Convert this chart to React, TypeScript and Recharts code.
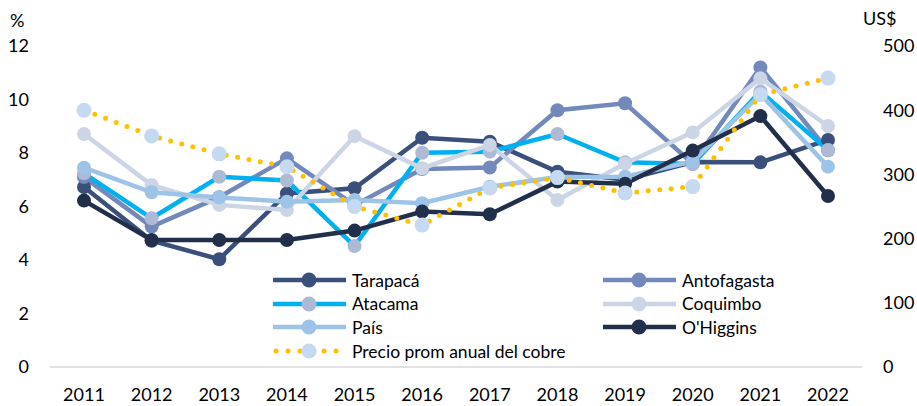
import React from 'react';
import { LineChart, Line, XAxis, YAxis } from 'recharts';

const years = ['2011', '2012', '2013', '2014', '2015', '2016', '2017', '2018', '2019', '2020', '2021', '2022'];
const tarapaca = [6.73, 4.72, 4.03, 6.49, 6.68, 8.57, 8.42, 7.3, 7.0, 7.66, 7.65, 8.49];
const antofagasta = [7.1, 5.25, 6.35, 7.8, 6.05, 7.4, 7.46, 9.6, 9.86, 7.6, 11.2, 8.1];
const atacama = [7.24, 5.56, 7.11, 6.97, 4.52, 8.01, 8.05, 8.71, 7.65, 7.59, 10.3, 8.11];
const coquimbo = [8.71, 6.8, 6.06, 5.87, 8.63, 7.43, 8.3, 6.24, 7.61, 8.77, 10.79, 9.01];
const pais = [7.45, 6.53, 6.34, 6.18, 6.24, 6.12, 6.74, 7.1, 7.11, 7.68, 10.2, 7.49];
const ohiggins = [6.22, 4.75, 4.75, 4.75, 5.1, 5.81, 5.71, 6.93, 6.85, 8.09, 9.38, 6.39];
const cobre = [400, 360, 332, 312, 250, 221, 279, 295, 271, 281, 424, 450];

const leftTicks = [0, 2, 4, 6, 8, 10, 12];
const rightTicks = [0, 100, 200, 300, 400, 500];

const data = years.map((y, i) => ({
  year: y,
  tarapaca: tarapaca[i],
  antofagasta: antofagasta[i],
  atacama: atacama[i],
  coquimbo: coquimbo[i],
  pais: pais[i],
  ohiggins: ohiggins[i],
  cobre: cobre[i],
}));

const FONT = 'Lato, sans-serif';

type SeriesDef = { key: string; name: string; line: string; dot: string; dotted?: boolean };

const series: SeriesDef[] = [
  { key: 'tarapaca', name: 'Tarapacá', line: '#3A4F7A', dot: '#3A4F7A' },
  { key: 'antofagasta', name: 'Antofagasta', line: '#7389BC', dot: '#7389BC' },
  { key: 'atacama', name: 'Atacama', line: '#00B0F0', dot: '#ADB9D5' },
  { key: 'coquimbo', name: 'Coquimbo', line: '#CCD5E6', dot: '#CCD5E6' },
  { key: 'pais', name: 'País', line: '#9DC3E6', dot: '#9DC3E6' },
  { key: 'ohiggins', name: "O'Higgins", line: '#222F4A', dot: '#222F4A' },
  { key: 'cobre', name: 'Precio prom anual del cobre', line: '#FFC000', dot: '#C5D9F1', dotted: true },
];

function LegendSample({ s }: { s: SeriesDef }) {
  return (
    <svg width={73} height={18} style={{ display: 'block' }}>
      {s.dotted ? (
        <line x1={3} y1={9} x2={70} y2={9} stroke={s.line} strokeWidth={5} strokeDasharray="0 12" strokeLinecap="round" />
      ) : (
        <line x1={0} y1={9} x2={73} y2={9} stroke={s.line} strokeWidth={4.5} />
      )}
      <circle cx={36} cy={9} r={7.5} fill={s.dot} />
    </svg>
  );
}

const legendPos: { [k: string]: [number, number] } = {
  tarapaca: [273, 280],
  antofagasta: [603, 280],
  atacama: [273, 303.5],
  coquimbo: [603, 303.5],
  pais: [273, 327],
  ohiggins: [603, 327],
  cobre: [273, 351],
};

export default function App() {
  return (
    <div style={{ position: 'absolute', left: 0, top: 0, width: 917, height: 406, background: '#fff', fontFamily: FONT }}>
      <LineChart width={917} height={406} data={data} margin={{ top: 46, right: 0, left: 0, bottom: 0 }}>
        <XAxis
          dataKey="year"
          height={39}
          padding={{ left: 34, right: 34 }}
          tickLine={false}
          tickSize={0}
          tickMargin={21}
          axisLine={{ stroke: '#D9D9D9', strokeWidth: 1.5 }}
          tick={{ fill: '#000', fontSize: 18, fontFamily: FONT }}
        />
        <YAxis
          yAxisId="left"
          width={50}
          domain={[0, 12]}
          ticks={leftTicks}
          interval={0}
          axisLine={false}
          tickLine={false}
          tickSize={0}
          tickMargin={21}
          tick={{ fill: '#000', fontSize: 18, fontFamily: FONT }}
        />
        <YAxis
          yAxisId="right"
          orientation="right"
          width={55}
          domain={[0, 500]}
          ticks={rightTicks}
          interval={0}
          axisLine={false}
          tickLine={false}
          tickSize={0}
          tickMargin={21}
          tick={{ fill: '#000', fontSize: 18, fontFamily: FONT, textAnchor: 'start' }}
        />
        {series.map((s) => (
          <Line
            key={s.key}
            yAxisId={s.key === 'cobre' ? 'right' : 'left'}
            dataKey={s.key}
            name={s.name}
            type="linear"
            stroke={s.line}
            strokeWidth={s.dotted ? 5 : 4.5}
            strokeDasharray={s.dotted ? '0 11.5' : undefined}
            strokeLinecap={s.dotted ? 'round' : 'butt'}
            dot={{ r: s.dotted ? 7.5 : 7, fill: s.dot, stroke: 'none', strokeWidth: 0 }}
            activeDot={false}
            isAnimationActive={false}
          />
        ))}
      </LineChart>
      <div style={{ position: 'absolute', left: 10, top: 8, fontSize: 18, lineHeight: '24px', color: '#000' }}>%</div>
      <div style={{ position: 'absolute', left: 863, top: 6, fontSize: 18, lineHeight: '24px', color: '#000' }}>US$</div>
      {series.map((s) => {
        const [x, y] = legendPos[s.key];
        return (
          <div
            key={s.key}
            style={{ position: 'absolute', left: x, top: y - 11, height: 22, display: 'flex', alignItems: 'center', gap: 6, fontSize: 17.5, color: '#000', whiteSpace: 'nowrap' }}
          >
            <LegendSample s={s} />
            <span>{s.name}</span>
          </div>
        );
      })}
    </div>
  );
}
